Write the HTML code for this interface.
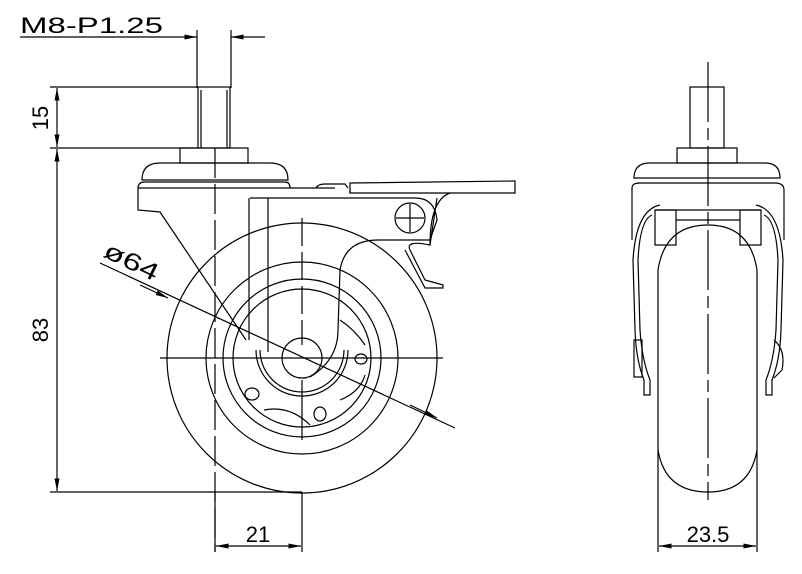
<!DOCTYPE html>
<html><head><meta charset="utf-8"><style>
html,body{margin:0;padding:0;background:#fff;width:802px;height:574px;overflow:hidden}
text{font-family:"Liberation Sans",sans-serif;font-size:22px;fill:#000}
</style></head><body>
<svg width="802" height="574" viewBox="0 0 802 574" xmlns="http://www.w3.org/2000/svg">
<defs>
<marker id="a" viewBox="0 0 10 4" refX="10" refY="2" markerWidth="14" markerHeight="5" markerUnits="userSpaceOnUse" orient="auto"><path d="M0,0 L10,2 L0,4z" fill="#000"/></marker>
</defs>
<g fill="none" stroke="#000" stroke-width="1.2">
<line x1="20" y1="37" x2="197" y2="37" marker-end="url(#a)"/>
<line x1="265" y1="37" x2="231" y2="37" marker-end="url(#a)"/>
<line x1="197" y1="30" x2="197" y2="88"/><line x1="231" y1="30" x2="231" y2="88"/>
<line x1="50" y1="87" x2="198" y2="87"/>
<line x1="50" y1="148" x2="198" y2="148"/>
<line x1="50" y1="492" x2="302" y2="492"/>
<line x1="57" y1="118" x2="57" y2="88" marker-end="url(#a)"/>
<line x1="57" y1="118" x2="57" y2="147" marker-end="url(#a)"/>
<line x1="57" y1="320" x2="57" y2="149" marker-end="url(#a)"/>
<line x1="57" y1="320" x2="57" y2="491" marker-end="url(#a)"/>
<line x1="215" y1="492" x2="215" y2="552"/><line x1="302" y1="492" x2="302" y2="552"/>
<line x1="258" y1="546" x2="216" y2="546" marker-end="url(#a)"/>
<line x1="258" y1="546" x2="301" y2="546" marker-end="url(#a)"/>
<rect x="198" y="87" width="32" height="61"/><line x1="201" y1="90" x2="201" y2="148"/><line x1="227" y1="90" x2="227" y2="148"/>
<rect x="180" y="148" width="68" height="15"/>
<path d="M142,180 Q142,163 160,163 L270,163 Q288,163 288,180 Z"/>
<path d="M138,188 Q138,182 145,182 L285,182 Q290,182 290,188"/>
<path d="M138,188 L138,210 L160,212 L246,340"/>
<line x1="138" y1="188" x2="335" y2="188"/>
<line x1="250" y1="198" x2="415" y2="198"/>
<line x1="249" y1="198" x2="249" y2="340"/><line x1="268" y1="198" x2="268" y2="352"/>
<path d="M316,188 Q318,184 325,184 L345,184 L348,188"/>
<path d="M350,183 L515,181 L515,193 L350,193 Z"/>
<line x1="350" y1="193" x2="350" y2="188"/>
<path d="M415,198 Q435,198 437,220 L430,240 L378,240 Q345,240 340,270 L338,330 Q338,360 310,377"/>
<path d="M437,198 L430,245 Q405,240 410,250 L425,280 L443,285 L443,288 L425,288 L405,250"/>
<path d="M450,193 Q430,200 430,245"/>
<circle cx="410" cy="218" r="15"/><line x1="396" y1="218" x2="424" y2="218"/><line x1="410" y1="204" x2="410" y2="232"/>
<circle cx="302" cy="358" r="135"/>
<circle cx="302" cy="358" r="96"/>
<circle cx="302" cy="358" r="79"/>
<circle cx="302" cy="358" r="69"/>
<path d="M256,350 A46,46 0 1 0 348,350"/>
<path d="M260,350 A42,42 0 1 0 344,350"/>
<circle cx="302" cy="358" r="20"/>
<ellipse cx="361" cy="359" rx="6" ry="5"/>
<ellipse cx="252" cy="394" rx="7" ry="6"/>
<ellipse cx="320" cy="414" rx="6" ry="7"/>
<path d="M264,410 Q290,405 310,425"/>
<path d="M340,400 Q360,392 365,375"/>
<path d="M340,320 Q355,330 365,345"/>
<line x1="160" y1="358" x2="443" y2="358"/>
<line x1="215" y1="148" x2="215" y2="552" stroke-dasharray="30,6"/>
<line x1="302" y1="218" x2="302" y2="345" stroke-dasharray="28,6"/>
<line x1="302" y1="380" x2="302" y2="440"/>
<line x1="100" y1="263" x2="455" y2="428"/>
<line x1="140" y1="285" x2="168" y2="298" marker-end="url(#a)"/>
<line x1="410" y1="405" x2="437" y2="418" marker-end="url(#a)"/>
<line x1="708" y1="62" x2="708" y2="500" stroke-dasharray="60,6,12,6"/>
<rect x="690" y="87" width="34" height="61"/>
<rect x="677" y="148" width="60" height="15"/>
<path d="M634,178 Q634,163 650,163 L765,163 Q780,163 780,178 Z"/>
<path d="M632,240 L632,188 Q632,183 640,183 L775,183 Q784,183 784,190 L784,240"/>
<path d="M658,270 Q665,225 708,225 Q750,225 757,270 L757,450 Q750,492 708,492 Q665,492 658,450 Z"/>
<path d="M655,210 L760,210 M676,220 L740,220"/>
<rect x="655" y="210" width="21" height="35"/><rect x="740" y="210" width="21" height="35"/>
<path d="M652,215 Q640,220 638,260 L640,330 Q642,360 650,380 L650,395 L644,395 L644,380 Q636,360 635,330 L633,260 Q636,210 660,205"/>
<path d="M764,215 Q776,220 778,260 L776,330 Q774,360 766,380 L766,395 L772,395 L772,380 Q780,360 781,330 L783,260 Q780,210 756,205"/>
<rect x="634" y="340" width="8" height="37"/>
<path d="M774,340 Q786,350 782,370 L774,378"/>
<line x1="658" y1="450" x2="658" y2="552"/><line x1="757" y1="450" x2="757" y2="552"/>
<line x1="708" y1="546" x2="659" y2="546" marker-end="url(#a)"/>
<line x1="708" y1="546" x2="756" y2="546" marker-end="url(#a)"/>
</g>
<text x="20" y="33" textLength="143" lengthAdjust="spacingAndGlyphs">M8-P1.25</text>
<text transform="translate(48,118) rotate(-90)" text-anchor="middle">15</text>
<text transform="translate(48,330) rotate(-90)" text-anchor="middle">83</text>
<text x="258" y="542" text-anchor="middle">21</text>
<text x="708" y="542" text-anchor="middle">23.5</text>
<text transform="translate(102,256) rotate(26)" style="font-size:24px" textLength="58" lengthAdjust="spacingAndGlyphs">ø64</text>
</svg>
</body></html>
